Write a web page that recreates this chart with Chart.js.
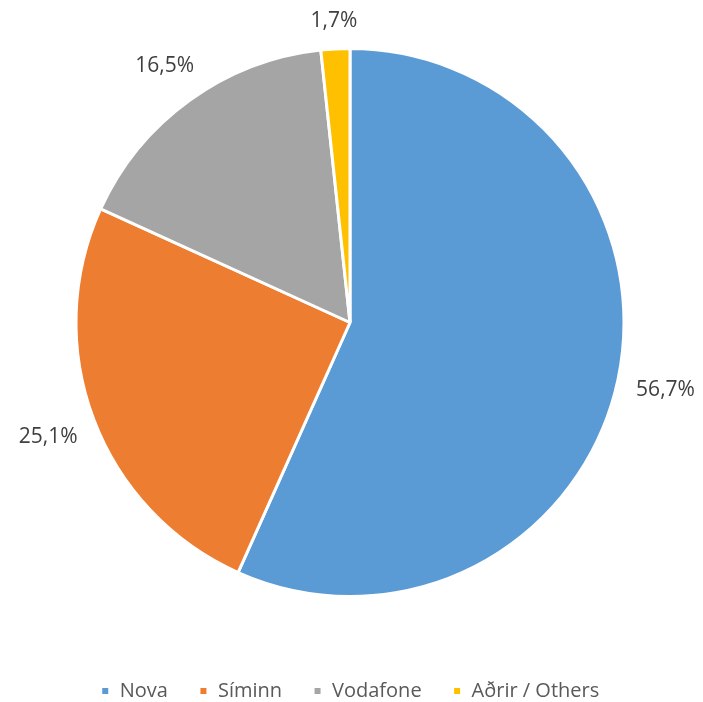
<!DOCTYPE html>
<html>
<head>
<meta charset="utf-8">
<script src="https://cdn.jsdelivr.net/npm/chart.js@4"></script>
<style>
  html, body { margin: 0; padding: 0; background: #fff; }
  #wrap { width: 703px; height: 702px; }
</style>
</head>
<body>
<div id="wrap"><canvas id="myChart"></canvas></div>
<script>
const labels = ['Nova', 'Síminn', 'Vodafone', 'Aðrir / Others'];
const shares = [56.7, 25.1, 16.5, 1.7];
const colors = ['#5B9BD5', '#ED7D31', '#A5A5A5', '#FFC000'];

// labels outside the slices, like Excel "outside end"
const outsideLabels = {
    id: 'outsideLabels',
    afterDatasetsDraw(chart) {
        const ctx = chart.ctx;
        const meta = chart.getDatasetMeta(0);
        ctx.save();
        ctx.font = '21px "Open Sans"';
        ctx.fillStyle = '#404040';
        ctx.textAlign = 'center';
        ctx.textBaseline = 'middle';
        meta.data.forEach((arc, i) => {
            const p = arc.getProps(['x', 'y', 'startAngle', 'endAngle', 'outerRadius'], true);
            const mid = (p.startAngle + p.endAngle) / 2;
            const dx = Math.cos(mid);
            const dy = Math.sin(mid);
            const text = shares[i].toFixed(1).replace('.', ',') + '%';
            const halfW = ctx.measureText(text).width / 2;
            const halfH = 9;
            const dist = p.outerRadius + 18 + Math.abs(dx) * halfW + Math.abs(dy) * halfH;
            ctx.fillText(text, p.x + dx * dist, p.y + dy * dist);
        });
        ctx.restore();
    }
};

const ctx = document.getElementById('myChart');

new Chart(ctx, {
    type: 'pie',
    data: {
        labels: labels,
        datasets: [{
            data: shares,
            backgroundColor: colors,
            borderColor: '#ffffff',
            borderWidth: 3
        }]
    },
    options: {
        responsive: true,
        maintainAspectRatio: false,
        animation: false,
        layout: {
            padding: { top: 47, bottom: -9, left: 0, right: 3 }
        },
        plugins: {
            tooltip: { enabled: false },
            legend: {
                position: 'bottom',
                title: {
                    display: true,
                    text: ' ',
                    font: { size: 10 },
                    padding: { top: 40, bottom: 0 }
                },
                labels: {
                    boxWidth: 9,
                    boxHeight: 9,
                    padding: 31,
                    color: '#595959',
                    font: { family: '"Open Sans"', size: 20 }
                }
            }
        }
    },
    plugins: [outsideLabels]
});
</script>
</body>
</html>
